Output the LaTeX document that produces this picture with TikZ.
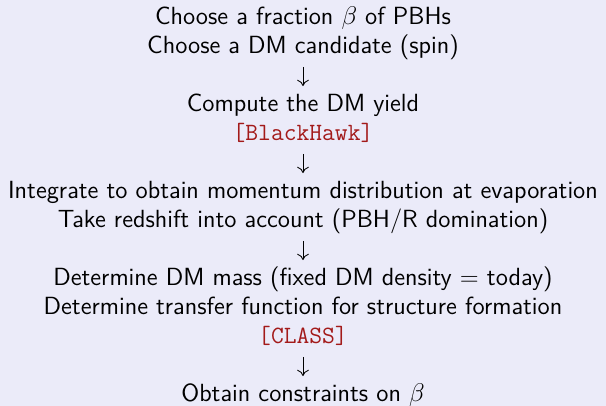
\documentclass[tikz,border=0pt]{standalone}
\usepackage{fontspec}
\usepackage{tikz}
\usetikzlibrary{positioning,arrows.meta}
\definecolor{slidebg}{HTML}{EBEBF9}
\definecolor{codered}{HTML}{A31A1A}
\tikzset{
    every node/.style={font=\sffamily\fontsize{11.65}{13.6}\selectfont},
    line/.style={inner sep=0pt,outer sep=0pt,text height=9.5pt,text depth=4.1pt},
    code/.style={line,text=codered,font=\ttfamily\fontsize{11.65}{13.6}\selectfont},
    flow/.style={draw,thin,-{Computer Modern Rightarrow[length=3pt,width=5.5pt]},shorten <=2.4pt,shorten >=2.2pt}
}
\newcommand{\tool}[1]{[#1]}
\begin{document}
\begin{tikzpicture}
    \fill[slidebg] (-142.1pt,11.3pt) rectangle (142.1pt,-179.1pt);
    \useasboundingbox (-142.1pt,11.3pt) rectangle (142.1pt,-179.1pt);
    \node[line,anchor=base] (pick) at (0,0) {Choose a fraction $\beta$ of PBHs};
    \node[line,below=0pt of pick] (spin) {Choose a DM candidate (spin)};
    \node[line,below=13.6pt of spin] (yield) {Compute the DM yield};
    \node[code,below=0pt of yield] (bhawk) {\tool{BlackHawk}};
    \node[line,below=13.6pt of bhawk] (integ) {Integrate to obtain momentum distribution at evaporation};
    \node[line,below=0pt of integ] (redshift) {Take redshift into account (PBH/R domination)};
    \node[line,below=13.6pt of redshift] (mass) {Determine DM mass (fixed DM density = today)};
    \node[line,below=0pt of mass] (transfer) {Determine transfer function for structure formation};
    \node[code,below=0pt of transfer] (class) {\tool{CLASS}};
    \node[line,below=13.6pt of class] (constr) {Obtain constraints on $\beta$};
    \draw[flow] (spin) -- (yield);
    \draw[flow] (bhawk) -- (integ);
    \draw[flow] (redshift) -- (mass);
    \draw[flow] (class) -- (constr);
\end{tikzpicture}
\end{document}
